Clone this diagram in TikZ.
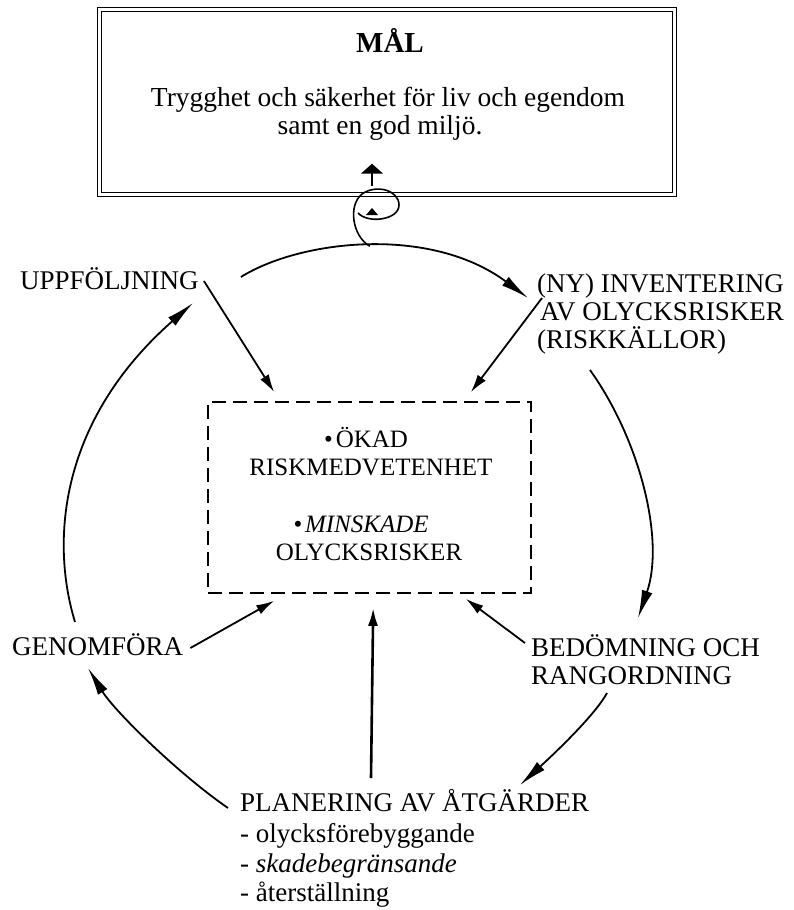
\documentclass[tikz,border=0pt]{standalone}
\usepackage{fontspec}
\setmainfont{Liberation Serif}
\usetikzlibrary{arrows.meta,calc}
\begin{document}
\begin{tikzpicture}[x=1pt,y=-1pt,
  lbl/.style={inner sep=0pt, anchor=base west, font=\fontsize{27}{29}\selectfont},
  ctxt/.style={inner sep=0pt, anchor=base, font=\fontsize{25}{27}\selectfont},
  gtxt/.style={inner sep=0pt, anchor=base, font=\fontsize{27.5}{29}\selectfont},
  goalbox/.style={draw, double, double distance=2.5pt, line width=1.4pt, inner sep=0pt, minimum width=575pt, minimum height=185pt},
  dashbox/.style={draw, line width=1.6pt, dash pattern=on 14pt off 7pt, inner sep=0pt, minimum width=323pt, minimum height=191pt},
  cyc/.style={line width=1.8pt, -{Latex[length=28pt,width=11pt]}},
  inarr/.style={line width=1.8pt, -{Latex[length=18pt,width=10pt]}}
]
\useasboundingbox[fill=white] (0,0) rectangle (794,910);

% goal box
\node[goalbox] (goal) at (387,102) {};
\node[inner sep=0pt, anchor=base, font=\bfseries\fontsize{29}{31}\selectfont] (mal) at (390,52) {MÅL};
\node[gtxt] (g1) at (388,106) {Trygghet och säkerhet för liv och egendom};
\node[gtxt] (g2) at (380,134) {samt en god miljö.};

% central dashed box
\node[dashbox] (ctr) at (369.5,497.5) {};
\node[ctxt] (c1) at (366,447) {•\hspace{3pt}ÖKAD};
\node[ctxt] (c2) at (371,475) {RISKMEDVETENHET};
\node[ctxt, font=\itshape\fontsize{25}{27}\selectfont] (c3) at (361,532) {•\hspace{3pt}MINSKADE};
\node[ctxt] (c4) at (369,560) {OLYCKSRISKER};

% labels
\node[lbl] (upp) at (20,289) {UPPFÖLJNING};
\node[lbl] (inv1) at (537,292) {(NY) INVENTERING};
\node[lbl] (inv2) at (540,320) {AV OLYCKSRISKER};
\node[lbl] (inv3) at (537,348) {(RISKKÄLLOR)};
\node[lbl] (gen) at (12,655) {GENOMFÖRA};
\node[lbl] (bed1) at (531,656) {BEDÖMNING OCH};
\node[lbl] (bed2) at (531,684) {RANGORDNING};
\node[lbl] (plan) at (240,811) {PLANERING AV ÅTGÄRDER};
\node[lbl] (l1) at (240,842) {- olycksförebyggande};
\node[lbl] (l2) at (240,872) {- \textit{skadebegränsande}};
\node[lbl] (l3) at (240,901) {- återställning};

% cycle arcs
\draw[cyc] ($(upp.base east)+(42,-12)$) .. controls (300,240) and (430,225) .. ($(inv2.base west)+(-12,-22)$) coordinate[pos=0.5] (apex);
\draw[cyc] ($(inv3.base west)+(53,22)$) .. controls (640,440) and (665,540) .. ($(bed1.base west)+(107,-38)$);
\draw[cyc] ($(bed2.base west)+(76,9)$) .. controls (595,715) and (555,753) .. ($(plan.base west)+(280,-26)$);
\draw[cyc] ($(plan.base west)+(-12,-3)$) .. controls (180,775) and (115,712) .. ($(gen.base west)+(76,13)$);
\draw[cyc] ($(gen.base west)+(63,-33)$) .. controls (50,540) and (60,420) .. ($(upp.base west)+(173,14)$);

% loop towards the goal
\draw[line width=1.6pt] (apex) .. controls (352,236) and (348,205) .. (362,194)
  .. controls (376,184) and (399,190) .. (399,205)
  .. controls (399,220) and (368,224) .. (358,213);
\fill (366,215) -- (378,215) -- (372,208) -- cycle;
\draw[line width=1.8pt, -{Triangle[length=10pt,width=22pt]}] ($(goal.south)+(-15,-9.5)$) -- ($(goal.south)+(-15,-31.5)$);

% arrows into the central box
\draw[inarr] ($(upp.base east)+(5,-8)$) -- ($(ctr.north west)+(67,-9)$);
\draw[inarr] ($(inv2.base west)+(2,-22)$) -- ($(ctr.north east)+(-61,-9)$);
\draw[inarr] ($(gen.base east)+(7,-7)$) -- ($(ctr.south west)+(67,7)$);
\draw[inarr, line width=2.6pt] ($(plan.base west)+(131,-33)$) -- ($(ctr.south west)+(166,14)$);
\draw[inarr] ($(bed1.base west)+(-6,-13)$) -- ($(ctr.south east)+(-66,5)$);
\end{tikzpicture}
\end{document}
